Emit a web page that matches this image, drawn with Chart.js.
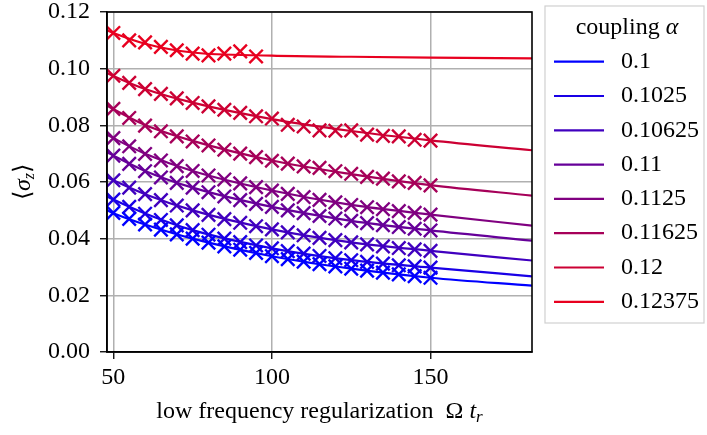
<!DOCTYPE html>
<html>
<head>
<meta charset="utf-8">
<script src="https://cdn.jsdelivr.net/npm/chart.js@4.4.1/dist/chart.umd.min.js"></script>
<style>
html,body{margin:0;padding:0;background:#fff;}
#wrap{width:707px;height:435px;position:relative;}
</style>
</head>
<body>
<div id="wrap"><canvas id="c" width="707" height="435"></canvas></div>
<script>
// ---- data ----
const couplings = ['0.1','0.1025','0.10625','0.11','0.1125','0.11625','0.12','0.12375'];
const seriesColors = ['#0000ff','#1900e6','#4000bf','#660099','#800080','#a60059','#cc0033','#e8001f'];
const markerX = [50,55,60,65,70,75,80,85,90,95,100,105,110,115,120,125,130,135,140,145,150];
const markerX_last = [50,55,60,65,70,75,80,85,90,95];
const m_0100   = [0.0491,0.0470,0.0450,0.0432,0.0415,0.0400,0.0386,0.0373,0.0361,0.0350,0.0338,0.0328,0.0319,0.0310,0.0302,0.0294,0.0287,0.0280,0.0274,0.0268,0.0262];
const m_01025  = [0.0538,0.0512,0.0488,0.0466,0.0447,0.0430,0.0414,0.0400,0.0388,0.0376,0.0366,0.0356,0.0347,0.0339,0.0331,0.0324,0.0318,0.0312,0.0306,0.0302,0.0298];
const m_010625 = [0.0606,0.0580,0.0557,0.0536,0.0517,0.0500,0.0484,0.0469,0.0456,0.0444,0.0433,0.0422,0.0412,0.0403,0.0395,0.0387,0.0380,0.0373,0.0367,0.0362,0.0357];
const m_0110   = [0.0693,0.0664,0.0638,0.0616,0.0597,0.0580,0.0564,0.0549,0.0536,0.0523,0.0512,0.0500,0.0490,0.0480,0.0471,0.0463,0.0455,0.0448,0.0441,0.0435,0.0429];
const m_01125  = [0.0755,0.0726,0.0699,0.0676,0.0656,0.0639,0.0623,0.0609,0.0595,0.0582,0.0570,0.0558,0.0547,0.0537,0.0528,0.0519,0.0511,0.0504,0.0497,0.0491,0.0485];
const m_011625 = [0.0858,0.0826,0.0799,0.0779,0.0761,0.0743,0.0729,0.0714,0.0700,0.0688,0.0675,0.0665,0.0655,0.0650,0.0638,0.0629,0.0618,0.0612,0.0602,0.0597,0.0588];
const m_0120   = [0.0975,0.0950,0.0928,0.0911,0.0895,0.0879,0.0867,0.0855,0.0844,0.0832,0.0824,0.0802,0.0796,0.0782,0.0781,0.0782,0.0767,0.0763,0.0761,0.0749,0.0746];
const m_012375 = [0.1126,0.1100,0.1093,0.1077,0.1065,0.1053,0.1047,0.1053,0.1061,0.1043];
// fitted curves (sampled)
const fitX = [48,50,60,75,100,125,150,182];
const f_0100   = [0.0500,0.0490,0.0450,0.0400,0.0338,0.0294,0.0262,0.0234];
const f_01025  = [0.0549,0.0538,0.0489,0.0430,0.0366,0.0324,0.0298,0.0267];
const f_010625 = [0.0617,0.0606,0.0557,0.0500,0.0433,0.0387,0.0357,0.0323];
const f_0110   = [0.0705,0.0693,0.0639,0.0580,0.0512,0.0463,0.0429,0.0393];
const f_01125  = [0.0767,0.0755,0.0700,0.0639,0.0570,0.0519,0.0485,0.0446];
const f_011625 = [0.0870,0.0857,0.0801,0.0745,0.0676,0.0628,0.0589,0.0552];
const f_0120   = [0.0985,0.0974,0.0928,0.0880,0.0822,0.0780,0.0747,0.0712];
const f_012375 = [0.1135,0.1126,0.1088,0.1057,0.1046,0.1042,0.1039,0.1036];
const xTicks = [50,100,150];
const yTicks = [0,0.02,0.04,0.06,0.08,0.10,0.12];

const markerSets = [m_0100,m_01025,m_010625,m_0110,m_01125,m_011625,m_0120,m_012375];
const fitSets = [f_0100,f_01025,f_010625,f_0110,f_01125,f_011625,f_0120,f_012375];

const FONT = "'Liberation Serif','Times New Roman',serif";
const FS = 24;

const datasets = [];
couplings.forEach((c,i)=>{
  datasets.push({
    type:'line', label:c, data: fitX.map((x,k)=>({x, y: fitSets[i][k]})),
    borderColor: seriesColors[i], borderWidth: 2.2, pointRadius: 0, fill:false,
    cubicInterpolationMode:'monotone', order: 2
  });
});
couplings.forEach((c,i)=>{
  const xs = (i===couplings.length-1) ? markerX_last : markerX;
  datasets.push({
    type:'scatter', label:c+' data', data: xs.map((x,k)=>({x, y: markerSets[i][k]})),
    borderColor: seriesColors[i], backgroundColor: seriesColors[i],
    pointStyle:'crossRot', pointRadius: 9.5, pointBorderWidth: 2.4, showLine:false, order: 1
  });
});

const extras = {
  id:'extras',
  afterDraw(chart){
    const ctx = chart.ctx, a = chart.chartArea;
    ctx.save();
    // spines
    ctx.strokeStyle = '#000'; ctx.lineWidth = 1.6;
    ctx.strokeRect(a.left, a.top, a.right-a.left, a.bottom-a.top);
    // x label
    ctx.fillStyle = '#000';
    ctx.textBaseline = 'alphabetic';
    const base = 418;
    const p1 = 'low frequency regularization  Ω ';
    ctx.font = FS+"px " + FONT;
    const w1 = ctx.measureText(p1).width;
    ctx.font = "italic "+FS+"px " + FONT;
    const w2 = ctx.measureText('t').width;
    ctx.font = "italic 17px " + FONT;
    const w3 = ctx.measureText('r').width;
    const total = w1 + w2 + w3;
    let x0 = (a.left + a.right)/2 - total/2;
    ctx.textAlign = 'left';
    ctx.font = FS+"px " + FONT; ctx.fillText(p1, x0, base);
    ctx.font = "italic "+FS+"px " + FONT; ctx.fillText('t', x0 + w1, base);
    ctx.font = "italic 17px " + FONT; ctx.fillText('r', x0 + w1 + w2, base + 4);
    // y label rotated
    ctx.save();
    ctx.translate(30, (a.top + a.bottom)/2);
    ctx.rotate(-Math.PI/2);
    ctx.font = FS+"px " + FONT;
    const la = ctx.measureText('⟨').width;
    ctx.font = "italic "+FS+"px " + FONT;
    const sg = ctx.measureText('σ').width;
    ctx.font = "italic 16px " + FONT;
    const zz = ctx.measureText('z').width;
    ctx.font = FS+"px " + FONT;
    const ra = ctx.measureText('⟩').width;
    const tw = la + sg + zz + ra;
    let px = -tw/2;
    ctx.font = FS+"px " + FONT; ctx.fillText('⟨', px, 0); px += la;
    ctx.font = "italic "+FS+"px " + FONT; ctx.fillText('σ', px, 0); px += sg;
    ctx.font = "italic 16px " + FONT; ctx.fillText('z', px, 4); px += zz;
    ctx.font = FS+"px " + FONT; ctx.fillText('⟩', px, 0);
    ctx.restore();
    // legend
    const lx = 545, ly = 6, lw = 159, lh = 317;
    ctx.fillStyle = 'rgba(255,255,255,0.8)';
    ctx.fillRect(lx, ly, lw, lh);
    ctx.strokeStyle = '#d0d0d0'; ctx.lineWidth = 1.2;
    ctx.strokeRect(lx, ly, lw, lh);
    ctx.fillStyle = '#000';
    ctx.textBaseline = 'middle';
    ctx.font = FS+"px " + FONT;
    const tA = 'coupling ';
    const wA = ctx.measureText(tA).width;
    ctx.font = "italic "+FS+"px " + FONT;
    const wB = ctx.measureText('α').width;
    let tx = 627 - (wA + wB)/2;
    ctx.font = FS+"px " + FONT; ctx.fillText(tA, tx, 28);
    ctx.font = "italic "+FS+"px " + FONT; ctx.fillText('α', tx + wA, 28);
    couplings.forEach((c,i)=>{
      const yy = 61.7 + i*34.3;
      ctx.strokeStyle = seriesColors[i]; ctx.lineWidth = 2.2;
      ctx.beginPath(); ctx.moveTo(554, yy); ctx.lineTo(604, yy); ctx.stroke();
      ctx.fillStyle = '#000';
      ctx.font = FS+"px " + FONT;
      ctx.fillText(c, 621, yy);
    });
    ctx.restore();
  }
};

new Chart(document.getElementById('c'), {
  data: { datasets },
  options: {
    responsive:false, animation:false,
    layout:{ padding:{ left:0, top:12, right:175, bottom:0 } },
    plugins:{ legend:{display:false}, tooltip:{enabled:false} },
    scales:{
      x:{
        type:'linear', min:48, max:182,
        afterBuildTicks(s){ s.ticks = xTicks.map(v=>({value:v})); },
        afterFit(s){ s.height = 83; s.paddingLeft = 0; s.paddingRight = 0; },
        grid:{ color:'#b0b0b0', lineWidth:1.5, tickColor:'#000', tickLength:7, tickWidth:1.3 },
        border:{ display:true, color:'#000', width:1.6 },
        ticks:{ color:'#000', font:{ family:FONT, size:FS }, padding:4, maxRotation:0 }
      },
      y:{
        type:'linear', min:0, max:0.12,
        afterBuildTicks(s){ s.ticks = yTicks.map(v=>({value:v})); },
        afterFit(s){ s.width = 107; s.paddingTop = 0; s.paddingBottom = 0; },
        grid:{ color:'#b0b0b0', lineWidth:1.5, tickColor:'#000', tickLength:7, tickWidth:1.3 },
        border:{ display:true, color:'#000', width:1.6 },
        ticks:{ color:'#000', font:{ family:FONT, size:FS }, padding:10, callback:(v)=>v.toFixed(2) }
      }
    }
  },
  plugins:[extras]
});
</script>
</body>
</html>
